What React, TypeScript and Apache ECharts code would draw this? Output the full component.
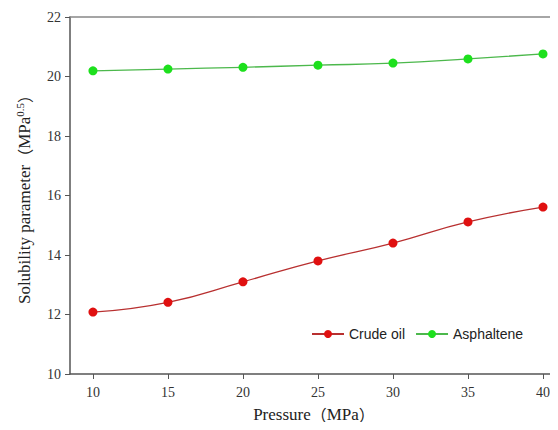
import React, { useEffect, useRef } from "react";
import * as echarts from "echarts";

const pressure = [10, 15, 20, 25, 30, 35, 40];
const crudeOil = [12.08, 12.41, 13.1, 13.8, 14.4, 15.11, 15.61];
const asphaltene = [20.19, 20.25, 20.31, 20.38, 20.45, 20.59, 20.76];
const xTicks = [10, 15, 20, 25, 30, 35, 40];
const seriesNames = ["Crude oil", "Asphaltene"];

export default function App() {
  const ref = useRef<HTMLDivElement>(null);
  useEffect(() => {
    if (!ref.current) return;
    const chart = echarts.init(ref.current, null, { renderer: "svg" });
    const serif = "'Liberation Serif', 'Times New Roman', serif";
    const cjk = "'Noto Sans CJK SC', sans-serif";
    const axisColor = "#555";
    const nameRich = {
      p: { fontFamily: cjk, fontSize: 16, color: "#222", lineHeight: 18 },
      t: { fontFamily: serif, fontSize: 17, color: "#222", lineHeight: 18 },
      sup: { fontFamily: serif, fontSize: 11, color: "#222", verticalAlign: "bottom", padding: [0, 0, 9, 0] },
    };
    chart.setOption({
      animation: false,
      backgroundColor: "#fff",
      grid: { left: 70, right: 0, top: 17, bottom: 56, containLabel: false },
      legend: {
        left: 306,
        top: 322,
        itemWidth: 32,
        itemHeight: 10,
        itemGap: 10,
        textStyle: { fontFamily: "'Liberation Sans', Arial, sans-serif", fontSize: 14, color: "#222" },
        data: seriesNames,
      },
      xAxis: [
        {
          type: "value",
          min: 8.47,
          max: 41,
          name: "{t|Pressure}{p|（}{t|MPa}{p|）}",
          nameLocation: "middle",
          nameGap: 31,
          nameTextStyle: { fontFamily: serif, fontSize: 17, color: "#222", lineHeight: 18, rich: nameRich },
          axisLine: { show: true, lineStyle: { color: axisColor, width: 1.5 } },
          axisTick: { show: true, customValues: xTicks, length: 5, lineStyle: { color: axisColor } },
          axisLabel: { customValues: xTicks, fontFamily: serif, fontSize: 14, color: "#333", margin: 11 },
          splitLine: { show: false },
        },
        {
          type: "value",
          position: "top",
          min: 8.47,
          max: 41,
          axisLine: { show: true, lineStyle: { color: "#888", width: 1.5 } },
          axisTick: { show: false },
          axisLabel: { show: false },
          splitLine: { show: false },
        },
      ],
      yAxis: {
        type: "value",
        min: 10,
        max: 22,
        interval: 2,
        name: "{t|Solubility parameter}{p|（}{t|MPa}{sup|0.5}{p|）}",
        nameLocation: "middle",
        nameGap: 36,
        nameTextStyle: { fontFamily: serif, fontSize: 17, color: "#222", rich: nameRich },
        axisLine: { show: true, lineStyle: { color: axisColor, width: 1.5 } },
        axisTick: { show: true, length: 5, lineStyle: { color: axisColor } },
        axisLabel: { fontFamily: serif, fontSize: 14, color: "#333", margin: 9 },
        splitLine: { show: false },
      },
      series: [
        {
          name: seriesNames[0],
          type: "line",
          smooth: true,
          data: pressure.map((p, i) => [p, crudeOil[i]]),
          symbol: "circle",
          symbolSize: 9,
          lineStyle: { color: "#b83030", width: 1.3 },
          itemStyle: { color: "#e01010" },
        },
        {
          name: seriesNames[1],
          type: "line",
          smooth: true,
          data: pressure.map((p, i) => [p, asphaltene[i]]),
          symbol: "circle",
          symbolSize: 9,
          lineStyle: { color: "#4cb84c", width: 1.3 },
          itemStyle: { color: "#1de01d" },
        },
      ],
    });
    return () => chart.dispose();
  }, []);
  return (
    <div style={{ width: 558, height: 430, margin: -8, overflow: "hidden", position: "relative" }}>
      <div ref={ref} style={{ width: 558, height: 430 }} />
    </div>
  );
}
